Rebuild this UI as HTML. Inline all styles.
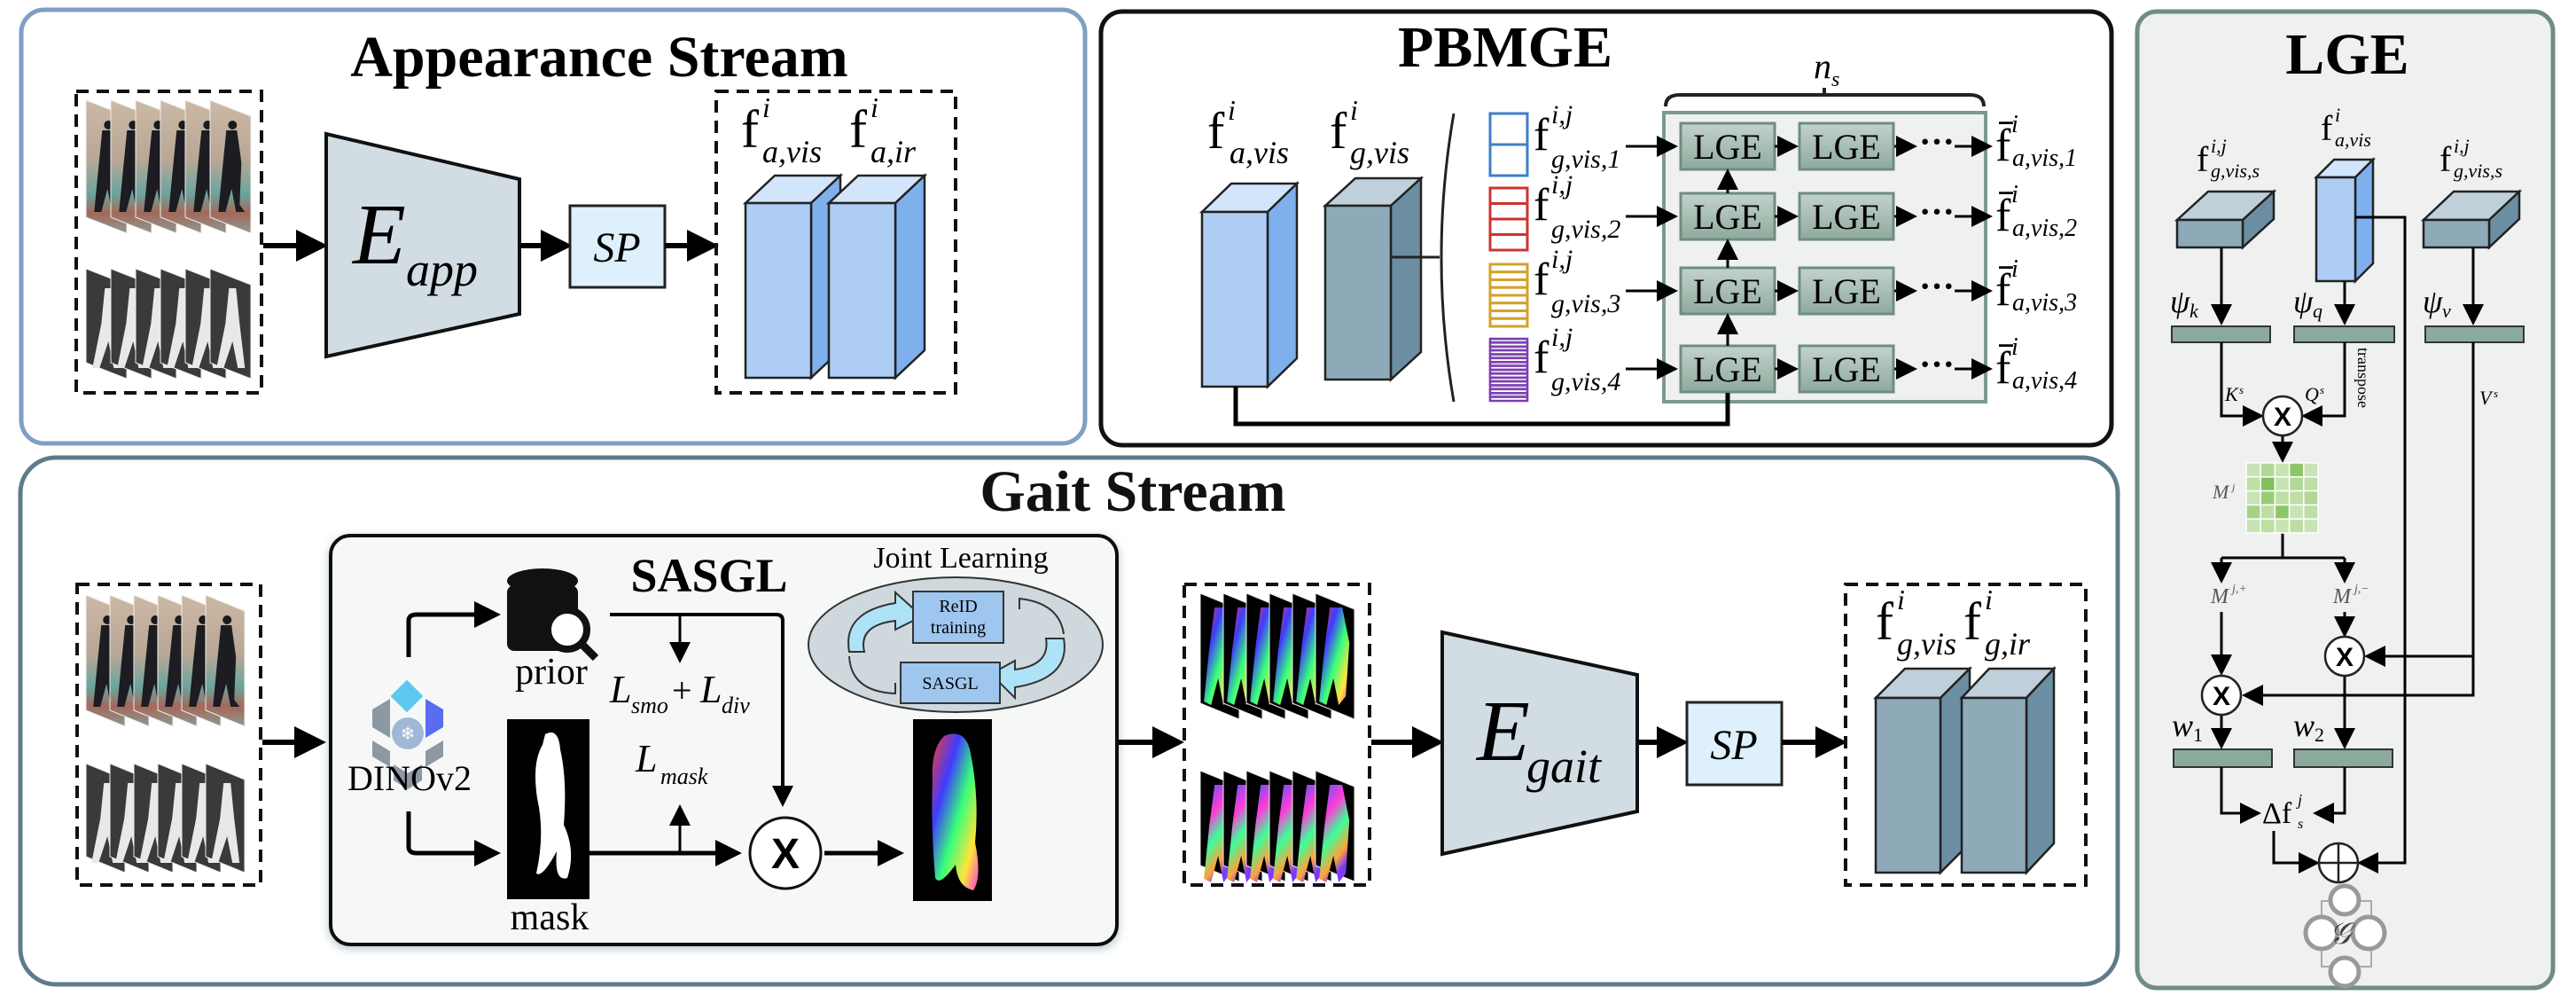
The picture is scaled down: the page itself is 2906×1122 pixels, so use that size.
<!DOCTYPE html>
<html><head><meta charset="utf-8"><title>Framework diagram</title>
<style>
html,body{margin:0;padding:0;background:#fff;}
svg{display:block;font-family:"Liberation Serif",serif;}
.t{font-family:"Liberation Serif",serif;}
.it{font-style:italic;}
</style></head>
<body>
<svg id="fig" width="2906" height="1122" viewBox="0 0 2906 1122" xmlns="http://www.w3.org/2000/svg">
<defs>
<marker id="ah" markerWidth="6" markerHeight="6" refX="5" refY="3" orient="auto" markerUnits="strokeWidth"><path d="M0,0 L6,3 L0,6 Z" fill="#000"/></marker>
<marker id="ahs" markerWidth="8" markerHeight="8" refX="7" refY="4" orient="auto" markerUnits="strokeWidth"><path d="M0,0 L8,4 L0,8 Z" fill="#000"/></marker>
<linearGradient id="lgeg" x1="0" y1="0" x2="0" y2="1"><stop offset="0" stop-color="#c3d3cc"/><stop offset="1" stop-color="#8fa99d"/></linearGradient>
<linearGradient id="rainA" x1="0" y1="0" x2="1" y2="1"><stop offset="0" stop-color="#ff3b2f"/><stop offset="0.3" stop-color="#3f3bff"/><stop offset="0.55" stop-color="#36ff7a"/><stop offset="0.8" stop-color="#ffe53a"/><stop offset="1" stop-color="#ff3bd8"/></linearGradient>
<linearGradient id="rainB" x1="0" y1="0" x2="0.4" y2="1"><stop offset="0" stop-color="#3b5bff"/><stop offset="0.35" stop-color="#ff3bd8"/><stop offset="0.6" stop-color="#3bff9a"/><stop offset="0.85" stop-color="#ffa23b"/><stop offset="1" stop-color="#7a3bff"/></linearGradient>
<linearGradient id="photo" x1="0" y1="0" x2="0" y2="1"><stop offset="0" stop-color="#cbb9a6"/><stop offset="0.45" stop-color="#b9a795"/><stop offset="0.7" stop-color="#6aa59e"/><stop offset="0.85" stop-color="#a5685a"/><stop offset="1" stop-color="#8a9a92"/></linearGradient>
<filter id="sh" x="-5%" y="-5%" width="110%" height="110%"><feDropShadow dx="0" dy="3" stdDeviation="5" flood-color="#6a8a9a" flood-opacity="0.5"/></filter>
</defs>

<g>
<rect x="24" y="11" width="1200" height="489" rx="26" fill="#fff" stroke="#7f9fc4" stroke-width="5"/>
<text x="676" y="86" text-anchor="middle" font-size="66" font-weight="bold" class="t">Appearance Stream</text>
<rect x="86" y="103" width="209" height="340" fill="none" stroke="#111" stroke-width="4" stroke-dasharray="14,9"/>
<g id="appImgs"></g>
<line x1="297" y1="277" x2="364" y2="277" stroke="#000" stroke-width="6" marker-end="url(#ah)"/>
<polygon points="368,151 586,202 586,354 368,402" fill="#d2dde3" stroke="#111" stroke-width="4"/>
<text x="398" y="297" font-size="98" class="t it">E</text>
<text x="458" y="322" font-size="54" class="t it">app</text>
<line x1="586" y1="277" x2="640" y2="277" stroke="#000" stroke-width="6" marker-end="url(#ah)"/>
<rect x="643" y="232" width="107" height="92" fill="#ddf0fb" stroke="#222" stroke-width="3"/>
<text x="696" y="295" text-anchor="middle" font-size="48" class="t it">SP</text>
<line x1="750" y1="277" x2="805" y2="277" stroke="#000" stroke-width="6" marker-end="url(#ah)"/>
<rect x="808" y="103" width="270" height="340" fill="none" stroke="#111" stroke-width="4" stroke-dasharray="14,9"/>
<g id="appCubes"></g>
<text x="836" y="166" font-size="60" class="t">f</text><text x="860" y="132" font-size="32" class="t it">i</text><text x="860" y="183" font-size="36" class="t it">a,vis</text>
<text x="958" y="166" font-size="60" class="t">f</text><text x="982" y="132" font-size="32" class="t it">i</text><text x="982" y="183" font-size="36" class="t it">a,ir</text>
</g>

<g>
<rect x="1242" y="13" width="1140" height="489" rx="24" fill="#fff" stroke="#111" stroke-width="5"/>
<text x="1698" y="75" text-anchor="middle" font-size="66" font-weight="bold" class="t">PBMGE</text>
<g id="pbCubes"></g>
<text x="1362" y="167" font-size="58" class="t">f</text><text x="1385" y="135" font-size="32" class="t it">i</text><text x="1387" y="184" font-size="36" class="t it">a,vis</text>
<text x="1500" y="167" font-size="58" class="t">f</text><text x="1523" y="135" font-size="32" class="t it">i</text><text x="1523" y="184" font-size="36" class="t it">g,vis</text>
<line x1="1569" y1="290" x2="1624" y2="290" stroke="#222" stroke-width="3"/>
<path d="M1640,128 Q1612,290 1640,453" fill="none" stroke="#222" stroke-width="3"/>
<g id="pbBars"></g>
<rect x="1877" y="127" width="363" height="326" fill="#eef1f0" stroke="#7a9a8c" stroke-width="4"/>
<path d="M1879,120 Q1879,107 1895,107 L2222,107 Q2238,107 2238,120 M2058,107 L2058,99" fill="none" stroke="#222" stroke-width="4"/>
<text x="2046" y="88" font-size="40" class="t it">n</text><text x="2066" y="97" font-size="24" class="t it">s</text>
<g id="pbRows"></g>
<path d="M1394,436 L1394,478 L1949,478 L1949,443" fill="none" stroke="#000" stroke-width="5"/>
</g>

<g>
<rect x="2411" y="13" width="469" height="1101" rx="22" fill="#eef1f0" stroke="#6f8d80" stroke-width="5"/>
<text x="2648" y="83" text-anchor="middle" font-size="66" font-weight="bold" class="t">LGE</text>
<g id="lgeCubes"></g>
<text x="2478" y="193" font-size="40" class="t">f</text><text x="2494" y="172" font-size="22" class="t it">i,j</text><text x="2494" y="200" font-size="22" class="t it">g,vis,s</text>
<text x="2618" y="158" font-size="40" class="t">f</text><text x="2634" y="137" font-size="22" class="t it">i</text><text x="2634" y="165" font-size="22" class="t it">a,vis</text>
<text x="2752" y="193" font-size="40" class="t">f</text><text x="2768" y="172" font-size="22" class="t it">i,j</text><text x="2768" y="200" font-size="22" class="t it">g,vis,s</text>
<g fill="#8aaa9c" stroke="#333" stroke-width="2">
<rect x="2450" y="368" width="111" height="18"/>
<rect x="2588" y="368" width="113" height="18"/>
<rect x="2736" y="368" width="111" height="18"/>
<rect x="2452" y="845" width="111" height="20"/>
<rect x="2588" y="845" width="111" height="20"/>
</g>
<text x="2448" y="352" font-size="36" class="t it">ψ</text><text x="2470" y="358" font-size="22" class="t it">k</text>
<text x="2587" y="352" font-size="36" class="t it">ψ</text><text x="2609" y="358" font-size="22" class="t it">q</text>
<text x="2733" y="352" font-size="36" class="t it">ψ</text><text x="2755" y="358" font-size="22" class="t it">v</text>
<g stroke="#000" stroke-width="3" fill="none">
<line x1="2506" y1="279" x2="2506" y2="364" marker-end="url(#ahs)"/>
<line x1="2645" y1="317" x2="2645" y2="364" marker-end="url(#ahs)"/>
<line x1="2790" y1="279" x2="2790" y2="364" marker-end="url(#ahs)"/>
<path d="M2657,245 L2713,245 L2713,973 L2662,973" marker-end="url(#ahs)"/>
<path d="M2506,386 L2506,469 L2551,469" marker-end="url(#ahs)"/>
<path d="M2645,386 L2645,469 L2599,469" marker-end="url(#ahs)"/>
<line x1="2575" y1="490" x2="2575" y2="519" marker-end="url(#ahs)"/>
<path d="M2575,601 L2575,629 M2506,629 L2645,629"/>
<line x1="2506" y1="629" x2="2506" y2="655" marker-end="url(#ahs)"/>
<line x1="2645" y1="629" x2="2645" y2="655" marker-end="url(#ahs)"/>
<line x1="2645" y1="690" x2="2645" y2="716" marker-end="url(#ahs)"/>
<line x1="2506" y1="690" x2="2506" y2="759" marker-end="url(#ahs)"/>
<path d="M2790,386 L2790,784 L2532,784" marker-end="url(#ahs)"/>
<path d="M2790,740 L2670,740" marker-end="url(#ahs)"/>
<line x1="2506" y1="806" x2="2506" y2="842" marker-end="url(#ahs)"/>
<line x1="2645" y1="763" x2="2645" y2="842" marker-end="url(#ahs)"/>
<path d="M2506,865 L2506,917 L2548,917" marker-end="url(#ahs)"/>
<path d="M2645,865 L2645,917 L2612,917" marker-end="url(#ahs)"/>
<path d="M2565,937 L2565,973 L2614,973" marker-end="url(#ahs)"/>
</g>
<text x="2660" y="392" font-size="18" class="t" transform="rotate(90 2660 392)">transpose</text>
<text x="2510" y="452" font-size="22" class="t it">K</text><text x="2526" y="444" font-size="13" class="t it">s</text>
<text x="2600" y="452" font-size="22" class="t it">Q</text><text x="2617" y="444" font-size="13" class="t it">s</text>
<text x="2797" y="456" font-size="22" class="t it">V</text><text x="2813" y="448" font-size="13" class="t it">s</text>
<g fill="#fff" stroke="#222" stroke-width="2.5">
<circle cx="2575" cy="469" r="22"/>
<circle cx="2645" cy="740" r="22"/>
<circle cx="2506" cy="784" r="22"/>
<circle cx="2638" cy="973" r="22"/>
</g>
<text x="2575" y="480" text-anchor="middle" font-size="30" font-family="Liberation Sans" font-weight="bold">X</text>
<text x="2645" y="751" text-anchor="middle" font-size="30" font-family="Liberation Sans" font-weight="bold">X</text>
<text x="2506" y="795" text-anchor="middle" font-size="30" font-family="Liberation Sans" font-weight="bold">X</text>
<path d="M2616,973 L2660,973 M2638,951 L2638,995" stroke="#222" stroke-width="2.5"/>
<g id="lgeMatrix"></g>
<text x="2496" y="562" font-size="22" class="t it" fill="#555">M</text><text x="2518" y="553" font-size="12" class="t it" fill="#555">j</text>
<text x="2494" y="680" font-size="24" class="t it" fill="#555">M</text><text x="2518" y="668" font-size="14" class="t it" fill="#555">j,+</text>
<text x="2632" y="680" font-size="24" class="t it" fill="#555">M</text><text x="2656" y="668" font-size="14" class="t it" fill="#555">j,−</text>
<text x="2450" y="830" font-size="36" class="t it">w</text><text x="2474" y="836" font-size="22" class="t">1</text>
<text x="2587" y="830" font-size="36" class="t it">w</text><text x="2611" y="836" font-size="22" class="t">2</text>
<text x="2552" y="928" font-size="34" class="t">Δf</text><text x="2592" y="908" font-size="18" class="t it">j</text><text x="2592" y="934" font-size="16" class="t it">s</text>
<g fill="#fff" stroke="#999" stroke-width="5">
<rect x="2619" y="1016" width="56" height="74" fill="none" stroke="#aaa" stroke-width="2"/>
<circle cx="2645" cy="1015" r="16"/><circle cx="2645" cy="1096" r="16"/>
<circle cx="2619" cy="1052" r="18"/><circle cx="2672" cy="1052" r="18"/>
</g>
<text x="2628" y="1064" font-size="34" class="t it" fill="#444">𝒢</text>
</g>

<g>
<rect x="23" y="516" width="2366" height="594" rx="40" fill="#fff" stroke="#5f7b8a" stroke-width="5"/>
<text x="1278" y="576" text-anchor="middle" font-size="66" font-weight="bold" class="t" fill="#111">Gait Stream</text>
<rect x="87" y="659" width="207" height="339" fill="none" stroke="#111" stroke-width="4" stroke-dasharray="14,9"/>
<g id="gaitImgs"></g>
<line x1="296" y1="837" x2="362" y2="837" stroke="#000" stroke-width="6" marker-end="url(#ah)"/>
<rect x="373" y="604" width="887" height="461" rx="22" fill="#f6f8f8" stroke="#111" stroke-width="4" filter="url(#sh)"/>
<text x="800" y="667" text-anchor="middle" font-size="54" font-weight="bold" class="t">SASGL</text>
<g>
<rect x="446" y="772" width="26" height="26" transform="rotate(45 459 785)" fill="#5ec8f0"/>
<path d="M420,800 L440,788 L440,832 L420,820 Z" fill="#8e98a4"/>
<path d="M500,800 L480,788 L480,832 L500,820 Z" fill="#5a6cf0"/>
<path d="M420,835 L440,847 L440,865 L420,853 Z" fill="#8e98a4"/>
<path d="M500,835 L480,847 L480,865 L500,853 Z" fill="#8e98a4"/>
<path d="M444,862 L460,872 L476,862 L476,880 L460,890 L444,880 Z" fill="#8e98a4"/>
<circle cx="460" cy="827" r="18" fill="#9fb8d6"/>
<text x="460" y="834" text-anchor="middle" font-size="20" fill="#fff">❄</text>
</g>
<text x="462" y="891" text-anchor="middle" font-size="40" class="t">DINOv2</text>
<g stroke="#000" stroke-width="5" fill="none">
<path d="M461,741 L461,700 Q461,693 470,693 L560,693" marker-end="url(#ah)"/>
<path d="M461,915 L461,955 Q461,962 470,962 L560,962" marker-end="url(#ah)"/>
<path d="M688,693 L876,693 Q883,693 883,700 L883,906" stroke-width="4" marker-end="url(#ah)"/>
<line x1="767" y1="693" x2="767" y2="745" stroke-width="3" marker-end="url(#ahs)"/>
<line x1="665" y1="962" x2="832" y2="962" marker-end="url(#ah)"/>
<line x1="767" y1="962" x2="767" y2="910" stroke-width="3" marker-end="url(#ahs)"/>
<line x1="930" y1="962" x2="1015" y2="962" marker-end="url(#ah)"/>
</g>
<g fill="#111">
<ellipse cx="612" cy="655" rx="40" ry="14"/>
<rect x="572" y="660" width="80" height="74" rx="8"/>
<circle cx="640" cy="710" r="22" fill="#fff" stroke="#111" stroke-width="8"/>
<line x1="656" y1="726" x2="672" y2="742" stroke="#111" stroke-width="9"/>
</g>
<text x="622" y="771" text-anchor="middle" font-size="42" class="t">prior</text>
<rect x="572" y="811" width="93" height="203" fill="#000"/>
<path d="M615,828 Q630,820 632,845 Q640,880 636,930 Q650,960 640,990 Q625,995 628,960 Q612,990 605,985 Q615,940 606,900 Q600,860 612,840 Z" fill="#fff"/>
<text x="620" y="1048" text-anchor="middle" font-size="42" class="t">mask</text>
<text x="688" y="792" font-size="44" class="t it">L</text><text x="712" y="804" font-size="26" class="t it">smo</text><text x="758" y="792" font-size="40" class="t">+</text><text x="790" y="792" font-size="44" class="t it">L</text><text x="814" y="804" font-size="26" class="t it">div</text>
<text x="717" y="870" font-size="44" class="t it">L</text><text x="745" y="884" font-size="26" class="t it">mask</text>
<circle cx="886" cy="962" r="40" fill="#fff" stroke="#111" stroke-width="3"/>
<text x="886" y="979" text-anchor="middle" font-size="48" font-family="Liberation Sans" font-weight="bold">X</text>
<rect x="1030" y="811" width="89" height="205" fill="#000"/>
<path d="M1065,830 Q1090,820 1095,850 Q1105,900 1100,950 Q1108,990 1098,1004 Q1080,1000 1078,975 Q1060,1000 1055,990 Q1050,930 1052,880 Q1050,845 1065,830 Z" fill="url(#rainA)"/>
<g>
<text x="1084" y="640" text-anchor="middle" font-size="34" class="t">Joint Learning</text>
<ellipse cx="1078" cy="727" rx="166" ry="76" fill="#cfd8dd" stroke="#333" stroke-width="2"/>
<path d="M958,735 Q950,690 1010,680 L1010,668 L1040,695 L1010,710 L1010,700 Q968,705 975,735 Z" fill="#aee3f7" stroke="#333" stroke-width="2"/>
<path d="M1200,720 Q1208,765 1145,775 L1145,787 L1118,760 L1145,745 L1145,755 Q1185,750 1180,720 Z" fill="#aee3f7" stroke="#333" stroke-width="2"/>
<path d="M958,740 Q960,780 1010,782 L1010,770" fill="none" stroke="#333" stroke-width="2"/>
<path d="M1200,715 Q1195,680 1150,675 L1150,687" fill="none" stroke="#333" stroke-width="2"/>
<rect x="1030" y="667" width="102" height="58" fill="#9fc6ef" stroke="#333" stroke-width="2"/>
<text x="1081" y="690" text-anchor="middle" font-size="20" class="t">ReID</text><text x="1081" y="714" text-anchor="middle" font-size="20" class="t">training</text>
<rect x="1016" y="747" width="112" height="46" fill="#9fc6ef" stroke="#333" stroke-width="2"/>
<text x="1072" y="777" text-anchor="middle" font-size="20" class="t">SASGL</text>
</g>
<line x1="1262" y1="837" x2="1330" y2="837" stroke="#000" stroke-width="6" marker-end="url(#ah)"/>
<rect x="1336" y="659" width="209" height="339" fill="none" stroke="#111" stroke-width="4" stroke-dasharray="14,9"/>
<g id="mapImgs"></g>
<line x1="1547" y1="837" x2="1623" y2="837" stroke="#000" stroke-width="6" marker-end="url(#ah)"/>
<polygon points="1627,713 1847,761 1847,915 1627,963" fill="#d2dde3" stroke="#111" stroke-width="4"/>
<text x="1666" y="857" font-size="98" class="t it">E</text>
<text x="1722" y="882" font-size="54" class="t it">gait</text>
<line x1="1847" y1="837" x2="1899" y2="837" stroke="#000" stroke-width="6" marker-end="url(#ah)"/>
<rect x="1903" y="792" width="107" height="93" fill="#ddf0fb" stroke="#222" stroke-width="3"/>
<text x="1956" y="856" text-anchor="middle" font-size="48" class="t it">SP</text>
<line x1="2010" y1="837" x2="2078" y2="837" stroke="#000" stroke-width="6" marker-end="url(#ah)"/>
<rect x="2082" y="659" width="271" height="339" fill="none" stroke="#111" stroke-width="4" stroke-dasharray="14,9"/>
<g id="gaitCubes"></g>
<text x="2116" y="721" font-size="60" class="t">f</text><text x="2140" y="687" font-size="32" class="t it">i</text><text x="2140" y="738" font-size="36" class="t it">g,vis</text>
<text x="2215" y="721" font-size="60" class="t">f</text><text x="2239" y="687" font-size="32" class="t it">i</text><text x="2239" y="738" font-size="36" class="t it">g,ir</text>
</g>
</svg>
<script>
var NS='http://www.w3.org/2000/svg';
function mk(tag,attrs,parent){var e=document.createElementNS(NS,tag);for(var k in attrs)e.setAttribute(k,attrs[k]);parent.appendChild(e);return e;}
function cube(p,x1,y1,x2,y2,dx,dy,cf,cs,ct,name){
  var g=mk('g',{},p);
  
  
  mk('polygon',{points:x1+','+y1+' '+(x1+dx)+','+(y1-dy)+' '+(x2+dx)+','+(y1-dy)+' '+x2+','+y1,fill:ct,stroke:'#222','stroke-width':2.5},g);
  mk('polygon',{points:x2+','+y1+' '+(x2+dx)+','+(y1-dy)+' '+(x2+dx)+','+(y2-dy)+' '+x2+','+y2,fill:cs,stroke:'#222','stroke-width':2.5},g);
  mk('rect',{x:x1,y:y1,width:x2-x1,height:y2-y1,fill:cf,stroke:'#222','stroke-width':2.5},g);
}
var BL=['#aecdf5','#7fb0ee','#d3e5fb'], GR=['#8ea9b8','#6b8ea3','#c0d0da'];
var ac=document.getElementById('appCubes');
cube(ac,841,229,915,426,33,31,BL[0],BL[1],BL[2],'appearance-vis-feature');
cube(ac,935,229,1010,426,33,31,BL[0],BL[1],BL[2],'appearance-ir-feature');
var pc=document.getElementById('pbCubes');
cube(pc,1356,239,1430,436,33,32,BL[0],BL[1],BL[2],'pbmge-appearance-feature');
cube(pc,1495,232,1569,428,34,31,GR[0],GR[1],GR[2],'pbmge-gait-feature');
var gc=document.getElementById('gaitCubes');
cube(gc,2116,787,2189,984,33,33,GR[0],GR[1],GR[2],'gait-vis-feature');
cube(gc,2213,787,2286,984,31,33,GR[0],GR[1],GR[2],'gait-ir-feature');
var lc=document.getElementById('lgeCubes');
cube(lc,2456,248,2530,279,35,32,GR[0],GR[1],GR[2],'key-part-feature');
cube(lc,2613,200,2657,317,20,20,BL[0],BL[1],BL[2],'query-appearance-feature');
cube(lc,2734,248,2808,279,34,32,GR[0],GR[1],GR[2],'value-part-feature');

function stack(p,x0,y0,w,h,step,n,kind,name){
  var g=mk('g',{},p);
  
  
  for(var i=0;i<n;i++){
    var x=x0+i*step,s=18;
    var fill=kind==='rgb'?'url(#photo)':kind==='ir'?'#3a3a3a':'#000';
    mk('polygon',{points:x+','+y0+' '+(x+w)+','+(y0+s)+' '+(x+w)+','+(y0+h)+' '+x+','+(y0+h-s),fill:fill,stroke:'#eee','stroke-width':1},g);
    var cx=x+w*0.55;
    if(kind==='rgb'){
      mk('path',{d:'M'+(cx-7)+','+(y0+34)+' l12,0 l5,36 l-2,48 l6,8 l-10,0 l-5,-26 l-7,26 l-8,0 l5,-52 z',fill:'#1c1c22'},g);
      mk('circle',{cx:cx,cy:y0+28,r:5,fill:'#1a1a1a'},g);
    } else if(kind==='ir'){
      mk('path',{d:'M'+(cx-4)+','+(y0+22)+' l8,0 l4,40 l6,50 l-8,0 l-6,-30 l-10,30 l-8,0 l10,-50 z',fill:'#e8e8e8'},g);
    } else {
      mk('path',{d:'M'+(cx-8)+','+(y0+16)+' l14,0 l8,40 l-4,60 l-8,10 l-6,-30 l-8,30 l-8,-4 l6,-60 z',fill:kind==='mapA'?'url(#rainA)':'url(#rainB)'},g);
    }
  }
}
stack(document.getElementById('appImgs'),97,113,46,150,28,6,'rgb','appearance-rgb-frames');
stack(document.getElementById('appImgs'),97,303,46,124,28,6,'ir','appearance-ir-frames');
stack(document.getElementById('gaitImgs'),97,671,44,148,27,6,'rgb','gait-rgb-frames');
stack(document.getElementById('gaitImgs'),97,861,44,123,27,6,'ir','gait-ir-frames');
stack(document.getElementById('mapImgs'),1354,669,44,142,26,6,'mapA','gait-map-rgb-frames');
stack(document.getElementById('mapImgs'),1354,869,44,125,26,6,'mapB','gait-map-ir-frames');

var partCounts=[2,4,8,16];
var partColors=['#3d7fc9','#cc3333','#d4a22a','#7b3fb0'];
var rowTops=[139,218,302,390];
var barTops=[128,212,298,382];
var pbBars=document.getElementById('pbBars');
var pbRows=document.getElementById('pbRows');
for(var r=0;r<4;r++){
  var bg=mk('g',{},pbBars);
  
  
  var n=partCounts[r],bh=70/n;
  for(var k=0;k<n;k++){
    mk('rect',{x:1681,y:barTops[r]+k*bh,width:42,height:bh,fill:r===3&&k%2===0?'#e4d8f0':'#fff',stroke:partColors[r],'stroke-width':r===3?2.5:3},bg);
  }
  var yc=rowTops[r]+26;
  var lab=mk('text',{x:1730,y:yc+4,'font-size':52,'class':'t'},pbBars);lab.textContent='f';
  var sup=mk('text',{x:1750,y:yc-26,'font-size':30,'class':'t it'},pbBars);sup.textContent='i,j';
  var sub=mk('text',{x:1750,y:yc+24,'font-size':30,'class':'t it'},pbBars);sub.textContent='g,vis,'+(r+1);
  mk('line',{x1:1834,y1:yc,x2:1890,y2:yc,stroke:'#000','stroke-width':3,'marker-end':'url(#ahs)'},pbRows);
  for(var c=0;c<2;c++){
    var bx=c===0?1896:2030;
    var lg=mk('g',{},pbRows);
    
    
    mk('rect',{x:bx,y:rowTops[r],width:106,height:52,fill:'url(#lgeg)',stroke:'#6f8d80','stroke-width':3},lg);
    var tt=mk('text',{x:bx+53,y:rowTops[r]+40,'text-anchor':'middle','font-size':40,'class':'t'},lg);tt.textContent='LGE';
  }
  mk('line',{x1:2002,y1:yc,x2:2026,y2:yc,stroke:'#000','stroke-width':3,'marker-end':'url(#ahs)'},pbRows);
  mk('line',{x1:2137,y1:yc,x2:2160,y2:yc,stroke:'#000','stroke-width':3,'marker-end':'url(#ahs)'},pbRows);
  var dots=mk('text',{x:2165,y:yc+8,'font-size':40,'class':'t','font-weight':'bold'},pbRows);dots.textContent='···';
  mk('line',{x1:2205,y1:yc,x2:2245,y2:yc,stroke:'#000','stroke-width':3,'marker-end':'url(#ahs)'},pbRows);
  var fb=mk('text',{x:2251,y:yc+16,'font-size':52,'class':'t'},pbRows);fb.textContent='f̄';
  var fs=mk('text',{x:2269,y:yc-16,'font-size':28,'class':'t it'},pbRows);fs.textContent='i';
  var fsub=mk('text',{x:2270,y:yc+22,'font-size':28,'class':'t it'},pbRows);fsub.textContent='a,vis,'+(r+1);
  if(r>0){mk('line',{x1:1949,y1:rowTops[r],x2:1949,y2:rowTops[r-1]+54,stroke:'#000','stroke-width':3,'marker-end':'url(#ahs)'},pbRows);}
}
var mtxVals=[[0.2,0.4,0.2,0.7,0.2],[0.3,0.8,0.2,0.4,0.3],[0.2,0.6,0.3,0.3,0.4],[0.5,0.3,0.7,0.2,0.3],[0.2,0.3,0.2,0.3,0.2]];
var mg=document.getElementById('lgeMatrix');
for(var i=0;i<5;i++)for(var j=0;j<5;j++){
  var v=mtxVals[i][j];
  var col='rgb('+Math.round(225-120*v)+','+Math.round(240-60*v)+','+Math.round(210-150*v)+')';
  var cell=mk('rect',{x:2534+j*16.2,y:522+i*15.8,width:16.2,height:15.8,fill:col,stroke:'#fff','stroke-width':1.5},mg);
  
  
}
</script>
</body></html>
